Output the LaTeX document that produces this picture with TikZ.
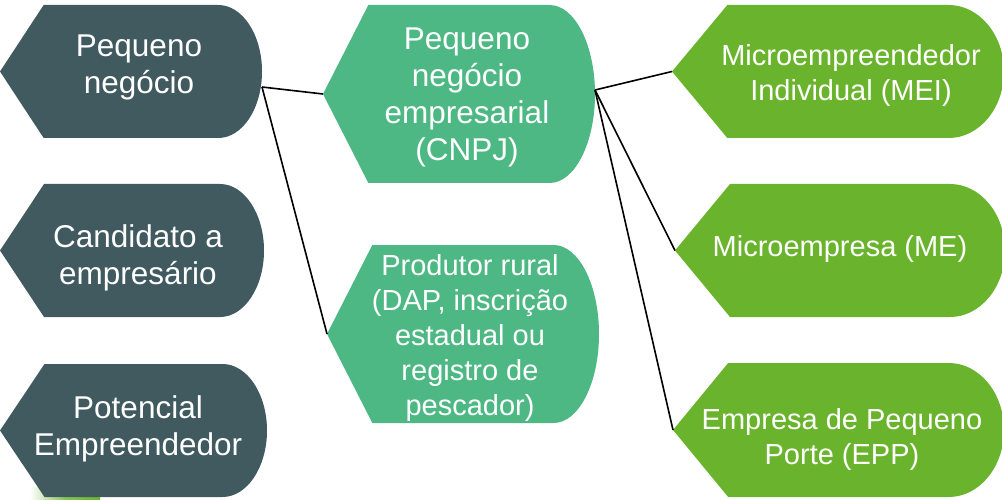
\documentclass[tikz,border=0pt]{standalone}
\usepackage{fontspec}
\setmainfont{Liberation Sans}
\definecolor{slate}{RGB}{64,90,96}
\definecolor{midgreen}{RGB}{77,184,132}
\definecolor{brightgreen}{RGB}{106,180,45}
\newcommand\dbox[6]{%
  \pgfmathsetmacro\dba{(#4-#2)/6}%
  \pgfmathsetmacro\dbh{(#5-#3)/2}%
  \pgfmathsetmacro\dbm{#3+\dbh}%
  \pgfmathsetmacro\dbxa{#2+\dba}%
  \pgfmathsetmacro\dbxb{#4-\dba}%
  \fill[#6] (#2pt,\dbm pt) -- (\dbxa pt,#5pt) -- (\dbxb pt,#5pt)
    arc[start angle=90,end angle=-90,x radius=\dba pt,y radius=\dbh pt]
    -- (\dbxa pt,#3pt) -- cycle;
  \coordinate (#1-l) at (#2pt,\dbm pt);
}
\tikzset{
  bigtxt/.style={text=white,align=center,inner sep=0pt,font=\fontsize{31.5}{37}\selectfont},
  smalltxt/.style={text=white,align=center,inner sep=0pt,font=\fontsize{29}{35}\selectfont},
  link/.style={draw=black,line width=1.6pt}
}
\begin{document}
\begin{tikzpicture}
\useasboundingbox (0,0) rectangle (1002pt,499pt);
\begin{scope}
\clip (0,0) rectangle (1002pt,499pt);
% partly hidden green shape at bottom left
\shade[left color=white,right color=brightgreen,middle color=brightgreen!80!white] (30pt,0pt) rectangle (100pt,12pt);
% left column
\dbox{a}{0}{361}{262}{494}{slate}
\dbox{b}{0}{182}{264}{315}{slate}
\dbox{c}{0}{2}{267}{135}{slate}
% middle column
\dbox{d}{323}{316}{595}{494}{midgreen}
\dbox{e}{327}{76}{599}{254}{midgreen}
% right column
\dbox{f}{672}{361}{1004}{494}{brightgreen}
\dbox{g}{675}{182}{1005}{315}{brightgreen}
\dbox{h}{673}{2}{1004}{136}{brightgreen}
\end{scope}
% connector origins on the right edges
\coordinate (aout) at (262pt,412pt);
\coordinate (dout) at (595pt,409pt);
% labels
\node[bigtxt] (A) at (139pt,432pt) {Pequeno\\negócio};
\node[bigtxt] (B) at (138pt,241pt) {Candidato a\\empresário};
\node[bigtxt] (C) at (138pt,70pt) {Potencial\\Empreendedor};
\node[bigtxt] (D) at (467pt,402pt) {Pequeno\\negócio\\empresarial\\(CNPJ)};
\node[smalltxt] (E) at (470pt,161pt) {Produtor rural\\(DAP, inscrição\\estadual ou\\registro de\\pescador)};
\node[smalltxt] (F) at (851pt,424pt) {Microempreendedor\\Individual (MEI)};
\node[smalltxt] (G) at (840pt,250pt) {Microempresa (ME)};
\node[smalltxt] (H) at (842pt,60pt) {Empresa de Pequeno\\Porte (EPP)};
% connectors
\draw[link] (aout) -- (d-l);
\draw[link] (aout) -- (e-l);
\draw[link] (dout) -- (f-l);
\draw[link] (dout) -- (g-l);
\draw[link] (dout) -- (h-l);
\end{tikzpicture}
\end{document}
